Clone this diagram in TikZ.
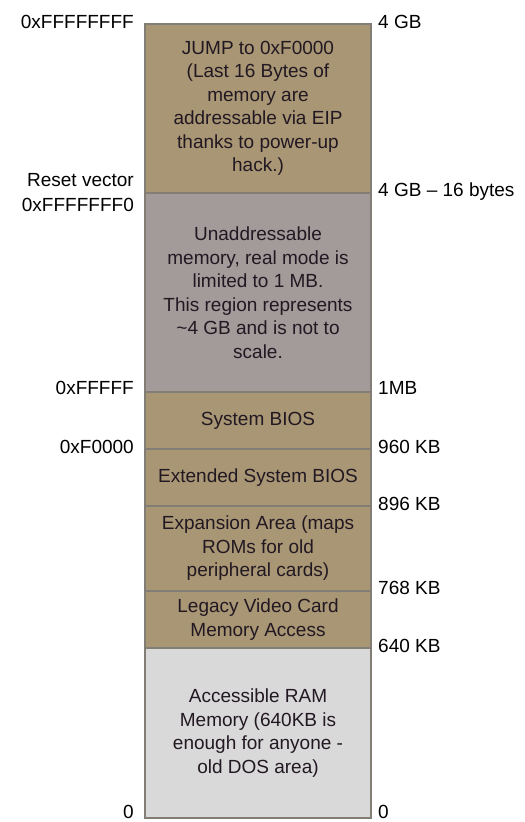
\documentclass[tikz,border=0pt]{standalone}
\usepackage{fontspec}
\setmainfont{Liberation Sans}
\definecolor{tanfill}{RGB}{168,150,116}
\definecolor{mauvefill}{RGB}{163,154,154}
\definecolor{ramfill}{RGB}{217,217,217}
\definecolor{edgegray}{RGB}{130,126,118}
\definecolor{boxtext}{RGB}{34,24,34}
\begin{document}
\begin{tikzpicture}[x=1bp,y=-1bp,
  region/.style={draw=edgegray, line width=1.5bp, minimum width=226bp, inner sep=0pt,
    align=center, text=boxtext, font=\fontsize{19bp}{23.5bp}\selectfont},
  leftlbl/.style={anchor=east, inner sep=0pt, align=right, font=\fontsize{19bp}{23.5bp}\selectfont},
  rightlbl/.style={anchor=west, inner sep=0pt, align=left, font=\fontsize{19bp}{23.5bp}\selectfont}]
\useasboundingbox (0,0) rectangle (525,822);
% regions
\node[region, fill=ramfill, minimum height=170bp] (ram) at (258,733) {Accessible RAM\\Memory (640KB is\\enough for anyone -\\old DOS area)};
\node[region, fill=tanfill, minimum height=57bp] (video) at (258,619.5) {Legacy Video Card\\Memory Access};
\node[region, fill=tanfill, minimum height=85bp] (exp) at (258,548.5) {Expansion Area (maps\\ROMs for old\\peripheral cards)};
\node[region, fill=tanfill, minimum height=57bp] (ext) at (258,477.5) {Extended System BIOS};
\node[region, fill=tanfill, minimum height=57bp] (bios) at (258,420.5) {System BIOS};
\node[region, fill=mauvefill, minimum height=199bp] (unaddr) at (258,292.5) {Unaddressable\\memory, real mode is\\limited to 1 MB.\\This region represents\\\textasciitilde4 GB and is not to\\scale.};
\node[region, fill=tanfill, minimum height=169bp] (jump) at (258,108.5) {JUMP to 0xF0000\\(Last 16 Bytes of\\memory are\\addressable via EIP\\thanks to power-up\\hack.)};
% left labels
\node[leftlbl] (l1) at (134,22) {0xFFFFFFFF};
\node[leftlbl] (l2) at (134,180) {Reset vector};
\node[leftlbl] (l3) at (134,205) {0xFFFFFFF0};
\node[leftlbl] (l4) at (134,388) {0xFFFFF};
\node[leftlbl] (l5) at (134,447) {0xF0000};
\node[leftlbl] (l6) at (134,812) {0};
% right labels
\node[rightlbl] (r1) at (378,22) {4 GB};
\node[rightlbl] (r2) at (378,192) {4 GB – 16 bytes};
\node[rightlbl] (r3) at (378,388) {1MB};
\node[rightlbl] (r4) at (378,447) {960 KB};
\node[rightlbl] (r5) at (378,504) {896 KB};
\node[rightlbl] (r6) at (378,588) {768 KB};
\node[rightlbl] (r7) at (378,646) {640 KB};
\node[rightlbl] (r8) at (378,812) {0};
\end{tikzpicture}
\end{document}
